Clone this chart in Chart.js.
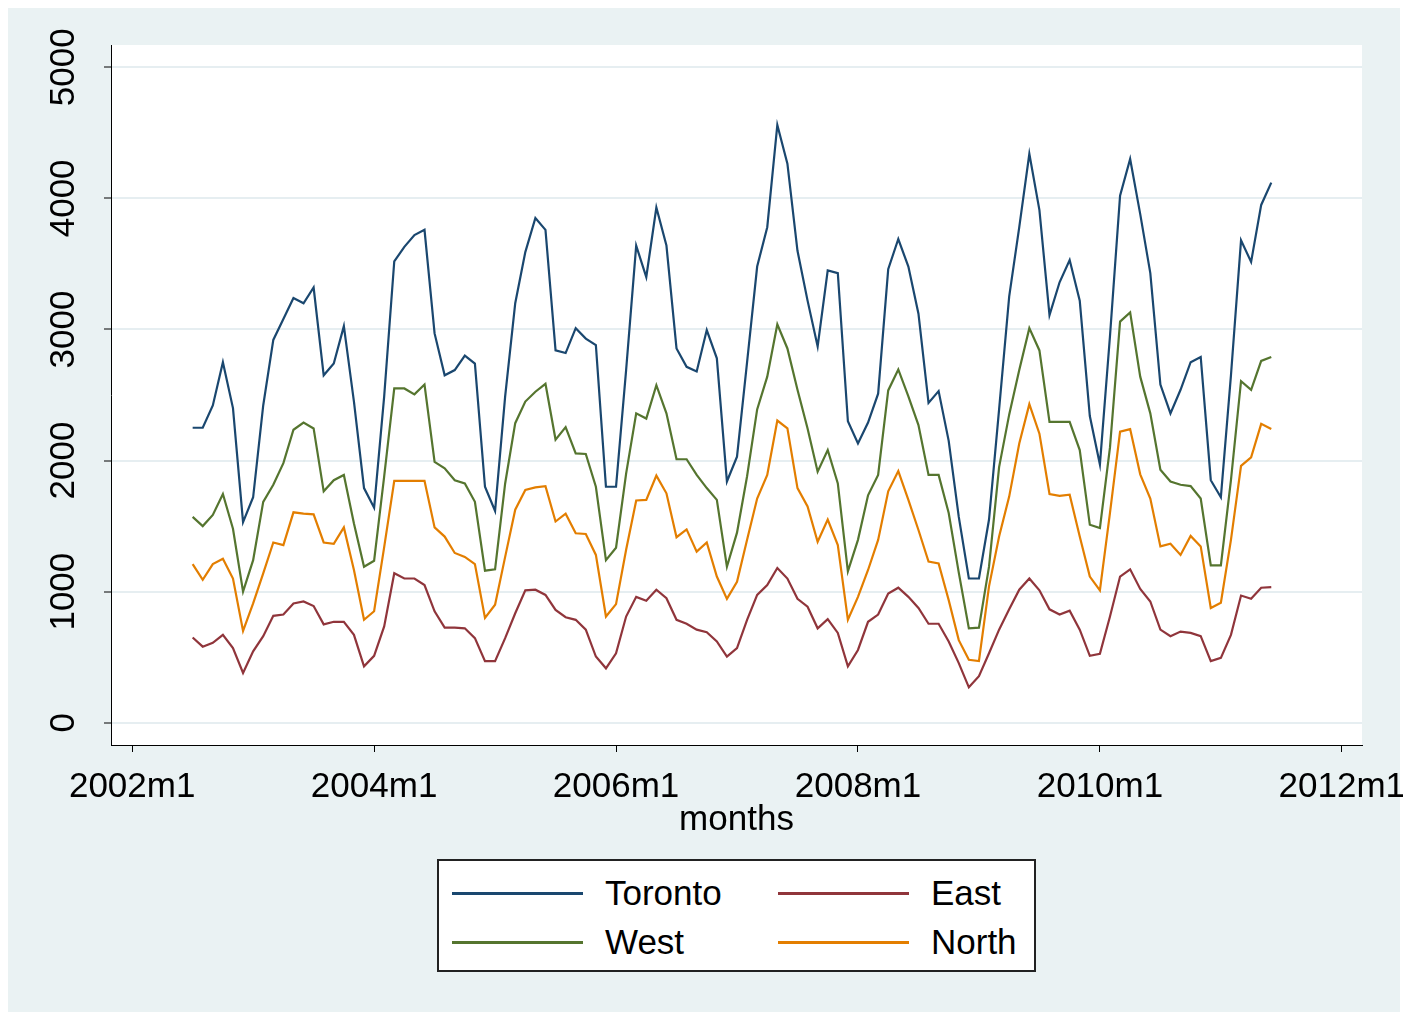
<!DOCTYPE html>
<html>
<head>
<meta charset="utf-8">
<script src="https://cdn.jsdelivr.net/npm/chart.js@4.4.0/dist/chart.umd.min.js"></script>
<style>
  html, body { margin: 0; padding: 0; background: #fff; }
  body { width: 1403px; height: 1013px; position: relative; overflow: hidden; font-family: "Liberation Sans", Arial, sans-serif; }
  .bg { position: absolute; left: 8px; top: 8px; width: 1392px; height: 1004px; background: #EAF2F3; }
  #chart { position: absolute; left: 0; top: 0; }
  .legend { position: absolute; left: 437px; top: 859px; width: 599px; height: 113px; box-sizing: border-box;
            border: 2px solid #222; background: #fff; }
  .legend .item { position: absolute; height: 40px; display: flex; align-items: center; font-size: 35px; color: #000; }
  .legend .swatch { width: 131px; height: 3px; margin-right: 22px; }
</style>
</head>
<body>
<div class="bg"></div>
<canvas id="chart" width="1403" height="1013"></canvas>
<div class="legend" id="legend"></div>
<script>
// months counted from 2002m1 = 0; data runs 2002m7 .. 2011m6
const firstMonth = 6;
const lastMonth = 113;
const months = [];
for (let t = firstMonth; t <= lastMonth; t++) months.push(t);

const seriesNames = ['Toronto', 'East', 'West', 'North'];
const seriesColors = ['#1A476F', '#90353B', '#55752F', '#E37E00'];

const toronto = [
  2250, 2250, 2420, 2750, 2400, 1530, 1720, 2420, 2920, 3080, 3240, 3200, 3320, 2650, 2740, 3025, 2450, 1790,
  1640, 2490, 3520, 3630, 3720, 3760, 2970, 2650, 2690, 2800, 2740, 1800, 1615, 2490, 3200, 3590, 3850, 3760,
  2840, 2820, 3010, 2930, 2880, 1800, 1800, 2690, 3640, 3400, 3930, 3640, 2855, 2715, 2680, 2995, 2780, 1840,
  2030, 2750, 3480, 3780, 4560, 4265, 3600, 3220, 2870, 3450, 3430, 2300, 2130, 2290, 2510, 3460, 3690, 3480,
  3120, 2440, 2530, 2150, 1570, 1100, 1100, 1550, 2390, 3250, 3780, 4340, 3910, 3110, 3360, 3530, 3220, 2340,
  1970, 2950, 4020, 4300, 3880, 3430, 2580, 2360, 2540, 2750, 2790, 1850, 1720, 2650, 3680, 3515, 3950, 4120
];
const east = [
  650, 580, 610, 670, 570, 380, 545, 660, 815, 825, 910, 925, 890, 750, 770, 770, 670, 430,
  510, 735, 1140, 1100, 1100, 1050, 850, 725, 725, 720, 645, 470, 470, 645, 835, 1010, 1015, 975,
  860, 805, 785, 710, 505, 415, 530, 810, 960, 930, 1015, 950, 785, 755, 710, 690, 620, 505,
  570, 785, 975, 1050, 1180, 1100, 945, 885, 720, 790, 685, 430, 555, 770, 825, 985, 1030, 960,
  875, 755, 755, 620, 455, 270, 355, 530, 710, 865, 1015, 1100, 1010, 865, 825, 855, 710, 510,
  525, 810, 1115, 1170, 1020, 925, 710, 660, 695, 685, 660, 470, 495, 670, 970, 945, 1030, 1035
];
const west = [
  1570, 1500, 1585, 1745, 1480, 1000, 1240, 1685, 1815, 1980, 2235, 2290, 2245, 1765, 1850, 1890, 1520, 1190,
  1235, 1880, 2550, 2550, 2505, 2580, 1990, 1940, 1850, 1825, 1685, 1160, 1170, 1825, 2285, 2450, 2525, 2585,
  2160, 2255, 2055, 2050, 1800, 1240, 1335, 1900, 2360, 2320, 2575, 2360, 2010, 2010, 1890, 1790, 1700, 1190,
  1450, 1880, 2390, 2640, 3040, 2855, 2540, 2245, 1915, 2080, 1825, 1155, 1395, 1735, 1890, 2535, 2695, 2490,
  2270, 1890, 1890, 1600, 1145, 720, 725, 1190, 1950, 2350, 2690, 3010, 2840, 2295, 2295, 2295, 2080, 1510,
  1485, 2100, 3060, 3130, 2640, 2360, 1930, 1840, 1815, 1805, 1710, 1200, 1200, 1850, 2605, 2540, 2760, 2790
];
const north = [
  1210, 1090, 1210, 1250, 1100, 700, 910, 1140, 1375, 1355, 1605, 1595, 1590, 1375, 1365, 1490, 1165, 785,
  850, 1340, 1845, 1845, 1845, 1845, 1490, 1420, 1295, 1265, 1210, 800, 900, 1265, 1625, 1775, 1795, 1805,
  1535, 1595, 1445, 1440, 1280, 810, 905, 1320, 1695, 1700, 1885, 1750, 1415, 1475, 1305, 1375, 1115, 945,
  1075, 1395, 1710, 1890, 2305, 2245, 1790, 1650, 1380, 1550, 1355, 785, 960, 1165, 1395, 1765, 1920, 1700,
  1470, 1230, 1215, 935, 630, 480, 470, 1040, 1420, 1725, 2130, 2430, 2205, 1745, 1730, 1740, 1420, 1115,
  1010, 1600, 2220, 2240, 1895, 1710, 1345, 1365, 1280, 1425, 1345, 875, 915, 1395, 1960, 2025, 2280, 2240
];

const xTicks = [0, 24, 48, 72, 96, 120];
const yTicks = [0, 1000, 2000, 3000, 4000, 5000];

function monthLabel(t) {
  return (2002 + Math.floor(t / 12)) + 'm' + (t % 12 + 1);
}

const allSeries = [toronto, east, west, north];
const datasets = allSeries.map(function(vals, i) {
  return {
    label: seriesNames[i],
    data: vals.map((v, k) => ({ x: months[k], y: v })),
    borderColor: seriesColors[i],
    backgroundColor: seriesColors[i],
    borderWidth: 2.2,
    pointRadius: 0,
    tension: 0,
    fill: false
  };
});

// white plot region
const plotBg = {
  id: 'plotBg',
  beforeDraw(chart) {
    const a = chart.chartArea;
    const ctx = chart.ctx;
    ctx.save();
    ctx.fillStyle = '#fff';
    ctx.fillRect(a.left, a.top, a.right - a.left, a.bottom - a.top);
    ctx.restore();
  }
};

const tickFont = { family: '"Liberation Sans", Arial, sans-serif', size: 35 };

const chart = new Chart(document.getElementById('chart').getContext('2d'), {
  type: 'line',
  data: { datasets: datasets },
  plugins: [plotBg],
  options: {
    responsive: false,
    animation: false,
    devicePixelRatio: 1,
    layout: { autoPadding: false, padding: { top: 45, right: 41, bottom: 168, left: 0 } },
    plugins: { legend: { display: false }, tooltip: { enabled: false } },
    scales: {
      x: {
        type: 'linear',
        min: -2.1,
        max: 122,
        afterBuildTicks: function(scale) { scale.ticks = xTicks.map(v => ({ value: v })); },
        afterFit: function(scale) {
          scale.height = 100;
          // let the last label run off the edge, as in the original
          scale.paddingLeft = 0;
          scale.paddingRight = 0;
        },
        grid: { drawOnChartArea: false, tickLength: 7, tickColor: '#000', tickWidth: 1 },
        border: { display: true, color: '#000', width: 1 },
        ticks: { color: '#000', font: tickFont, padding: 14, maxRotation: 0, autoSkip: false,
                 callback: function(v) { return monthLabel(v); } },
        title: { display: true, text: 'months', color: '#000', font: Object.assign({ lineHeight: 1 }, tickFont),
                 padding: { top: 0, bottom: 7 } }
      },
      y: {
        min: -170,
        max: 5170,
        afterBuildTicks: function(scale) { scale.ticks = yTicks.map(v => ({ value: v })); },
        afterFit: function(scale) {
          scale.width = 111;
          scale.paddingTop = 0;
          scale.paddingBottom = 0;
        },
        grid: { color: '#E6EEF1', lineWidth: 2, tickLength: 7, tickColor: '#000', tickWidth: 1 },
        border: { display: true, color: '#000', width: 1 },
        ticks: { color: '#000', font: tickFont, padding: 1, minRotation: 90, maxRotation: 90,
                 crossAlign: 'center', autoSkip: false,
                 callback: function(v) { return String(v); } }
      }
    }
  }
});

// legend box, two columns, filled row by row as in the original
const legendEl = document.getElementById('legend');
chart.data.datasets.forEach(function(ds, i) {
  const item = document.createElement('div');
  item.className = 'item';
  item.style.left = (13 + (i % 2) * 326) + 'px';
  item.style.top = (12 + Math.floor(i / 2) * 49) + 'px';
  const sw = document.createElement('span');
  sw.className = 'swatch';
  sw.style.background = ds.borderColor;
  const txt = document.createElement('span');
  txt.textContent = ds.label;
  item.appendChild(sw);
  item.appendChild(txt);
  legendEl.appendChild(item);
});
</script>
</body>
</html>
